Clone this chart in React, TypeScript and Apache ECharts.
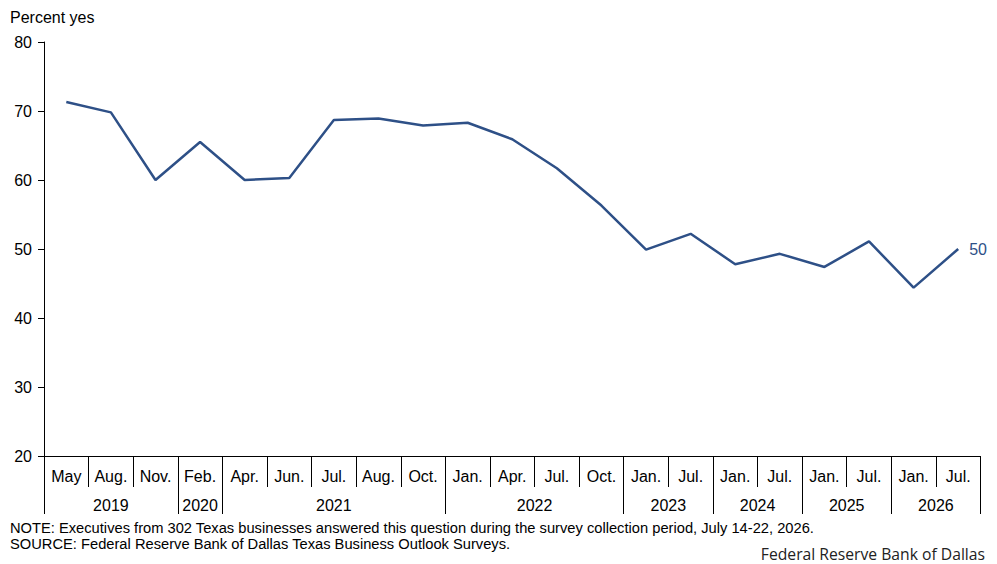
import React, { useEffect, useRef } from "react";
import * as echarts from "echarts";

const months = [
  "May", "Aug.", "Nov.",
  "Feb.",
  "Apr.", "Jun.", "Jul.", "Aug.", "Oct.",
  "Jan.", "Apr.", "Jul.", "Oct.",
  "Jan.", "Jul.",
  "Jan.", "Jul.",
  "Jan.", "Jul.",
  "Jan.", "Jul.",
];
const years = ["2019", "2020", "2021", "2022", "2023", "2024", "2025", "2026"];
const yearCounts = [3, 1, 5, 4, 2, 2, 2, 2];
const percentYes = [
  71.3, 69.8, 60.0,
  65.5,
  60.0, 60.3, 68.7, 68.9, 67.9,
  68.3, 65.9, 61.7, 56.3,
  49.9, 52.2,
  47.8, 49.3,
  47.4, 51.1,
  44.4, 50.0,
];
const yTicks = { min: 20, max: 80, interval: 10 };

const FONT = "'Liberation Sans', Arial, sans-serif";
const LINE_COLOR = "#2E5087";

export default function App() {
  const ref = useRef<HTMLDivElement>(null);

  useEffect(() => {
    if (!ref.current) return;
    const chart = echarts.init(ref.current, undefined, { renderer: "svg" });

    const yearStarts: number[] = [];
    const yearCenters: Record<string, string> = {};
    let acc = 0;
    yearCounts.forEach((c, i) => {
      yearStarts.push(acc);
      yearCenters[String(acc + c / 2)] = years[i];
      acc += c;
    });

    chart.setOption({
      animation: false,
      backgroundColor: "#fff",
      grid: { left: 44, right: 16.5, top: 42, bottom: 108, containLabel: false },
      xAxis: [
        {
          type: "category",
          data: months,
          position: "bottom",
          boundaryGap: true,
          axisLine: { show: true, lineStyle: { color: "#000", width: 1 } },
          axisTick: { show: true, interval: 0, length: 31, lineStyle: { color: "#000", width: 1 } },
          axisLabel: { interval: 0, margin: 12, fontSize: 16, color: "#000", fontFamily: FONT },
          splitLine: { show: false },
        },
        {
          type: "category",
          data: months,
          position: "bottom",
          boundaryGap: true,
          axisLine: { show: false },
          axisTick: {
            show: true,
            interval: (index: number) => yearStarts.indexOf(index) >= 0,
            length: 58,
            lineStyle: { color: "#000", width: 1 },
          },
          axisLabel: { show: false },
          splitLine: { show: false },
        },
        {
          type: "value",
          min: 0,
          max: months.length,
          interval: 0.5,
          position: "bottom",
          axisLine: { show: false },
          axisTick: { show: false },
          splitLine: { show: false },
          axisLabel: {
            margin: 41,
            fontSize: 16,
            color: "#000",
            fontFamily: FONT,
            showMinLabel: true,
            showMaxLabel: true,
            formatter: (v: number) => yearCenters[String(v)] || "",
          },
        },
      ],
      yAxis: {
        type: "value",
        min: yTicks.min,
        max: yTicks.max,
        interval: yTicks.interval,
        axisLine: { show: true, lineStyle: { color: "#000", width: 1 } },
        axisTick: { show: true, length: 6, lineStyle: { color: "#000", width: 1 } },
        axisLabel: { margin: 12, fontSize: 16, color: "#000", fontFamily: FONT },
        splitLine: { show: false },
      },
      series: [
        {
          type: "line",
          xAxisIndex: 0,
          data: percentYes,
          symbol: "none",
          lineStyle: { color: LINE_COLOR, width: 2.5 },
          itemStyle: { color: LINE_COLOR },
          endLabel: {
            show: true,
            formatter: "{c}",
            distance: 11,
            color: LINE_COLOR,
            fontSize: 16,
            fontFamily: FONT,
          },
        },
      ],
      graphic: [
        {
          type: "text",
          left: 10,
          top: 9,
          style: { text: "Percent yes", fill: "#000", font: `16px ${FONT}` },
        },
        {
          type: "text",
          left: 10,
          top: 520,
          style: {
            text: "NOTE: Executives from 302 Texas businesses answered this question during the survey collection period, July 14-22, 2026.",
            fill: "#000",
            font: `14.7px ${FONT}`,
          },
        },
        {
          type: "text",
          left: 10,
          top: 536,
          style: {
            text: "SOURCE: Federal Reserve Bank of Dallas Texas Business Outlook Surveys.",
            fill: "#000",
            font: `14.7px ${FONT}`,
          },
        },
        {
          type: "text",
          right: 12,
          top: 546,
          style: {
            text: "Federal Reserve Bank of Dallas",
            fill: "#222",
            font: `15.7px 'Open Sans', sans-serif`,
          },
        },
      ],
    });

    return () => chart.dispose();
  }, []);

  return (
    <div
      ref={ref}
      style={{ position: "fixed", left: 0, top: 0, width: 997, height: 564, background: "#fff" }}
    />
  );
}
